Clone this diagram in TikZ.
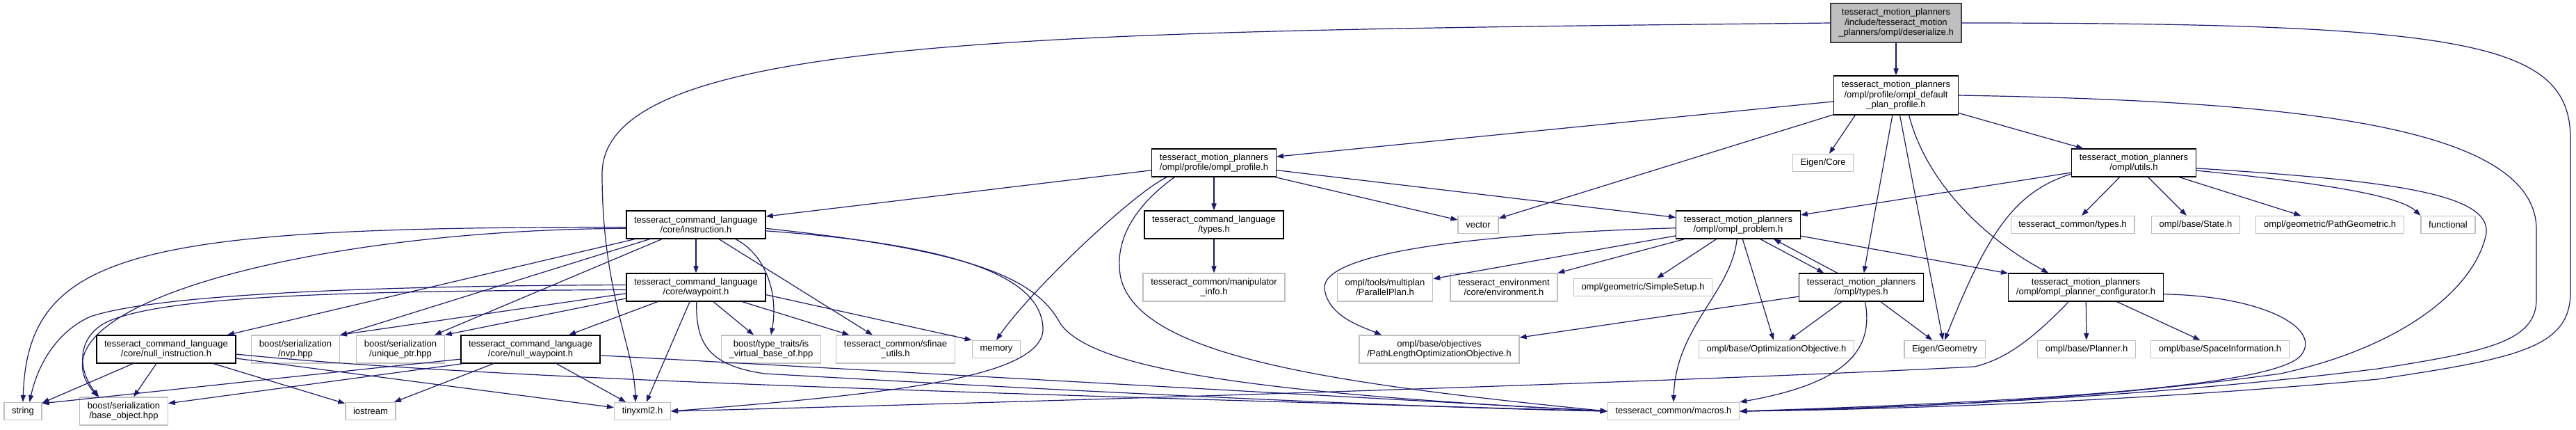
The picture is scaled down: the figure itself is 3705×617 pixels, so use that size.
\documentclass[tikz,border=0pt]{standalone}
\usepackage{fontspec}
\setmainfont{Liberation Sans}
\usetikzlibrary{arrows.meta}
\definecolor{edgeBlue}{RGB}{25,25,112}
\definecolor{extGray}{RGB}{191,191,191}
\definecolor{rootGray}{RGB}{64,64,64}

\begin{document}
\begin{tikzpicture}[x=0.5pt,y=-0.5pt,
  f/.style={draw=black,fill=white,line width=0.65pt,align=center,inner xsep=5.6pt,inner ysep=1pt,font=\fontsize{6.5pt}{7.2pt}\selectfont},
  ext/.style={f,draw=extGray},
  root/.style={f,fill=extGray,draw=rootGray},
  one/.style={minimum height=12.5pt},
  two/.style={minimum height=20pt},
  three/.style={minimum height=28pt},
  arrow/.style={-{Triangle[length=5pt,width=3.6pt]},draw=edgeBlue,line width=0.6pt}
]
\useasboundingbox (0,0) rectangle (3705,617);

\node[root,three] (deser) at (2727,33) {tesseract\_motion\_planners\\/include/tesseract\_motion\\\_planners/ompl/deserialize.h};
\node[f,three] (dflt) at (2727,137) {tesseract\_motion\_planners\\/ompl/profile/ompl\_default\\\_plan\_profile.h};
\node[f,two] (prof) at (1746,234) {tesseract\_motion\_planners\\/ompl/profile/ompl\_profile.h};
\node[ext,one] (ecore) at (2622,234) {Eigen/Core};
\node[f,two] (utils) at (3069,234) {tesseract\_motion\_planners\\/ompl/utils.h};
\node[f,two] (instr) at (1001,323) {tesseract\_command\_language\\/core/instruction.h};
\node[f,two] (cltypes) at (1746,323) {tesseract\_command\_language\\/types.h};
\node[ext,one] (vector) at (2126,323) {vector};
\node[f,two] (problem) at (2500,323) {tesseract\_motion\_planners\\/ompl/ompl\_problem.h};
\node[ext,one] (ctypes) at (2981,323) {tesseract\_common/types.h};
\node[ext,one] (state) at (3158,323) {ompl/base/State.h};
\node[ext,one] (pathgeo) at (3351,323) {ompl/geometric/PathGeometric.h};
\node[ext,one] (functional) at (3521,323) {functional};
\node[f,two] (wp) at (1001,413) {tesseract\_command\_language\\/core/waypoint.h};
\node[ext,two] (manip) at (1746,413) {tesseract\_common/manipulator\\\_info.h};
\node[ext,two] (parallel) at (1992,413) {ompl/tools/multiplan\\/ParallelPlan.h};
\node[ext,two] (env) at (2163,413) {tesseract\_environment\\/core/environment.h};
\node[ext,one] (setup) at (2363,413) {ompl/geometric/SimpleSetup.h};
\node[f,two] (mtypes) at (2677,413) {tesseract\_motion\_planners\\/ompl/types.h};
\node[f,two] (config) at (3000,413) {tesseract\_motion\_planners\\/ompl/ompl\_planner\_configurator.h};
\node[f,two] (nullinstr) at (239,502) {tesseract\_command\_language\\/core/null\_instruction.h};
\node[ext,two] (nvp) at (425,502) {boost/serialization\\/nvp.hpp};
\node[ext,two] (uptr) at (576,502) {boost/serialization\\/unique\_ptr.hpp};
\node[f,two] (nullwp) at (763,502) {tesseract\_command\_language\\/core/null\_waypoint.h};
\node[ext,two] (virt) at (1109,502) {boost/type\_traits/is\\\_virtual\_base\_of.hpp};
\node[ext,two] (sfinae) at (1288,502) {tesseract\_common/sfinae\\\_utils.h};
\node[ext,one] (memory) at (1433,502) {memory};
\node[ext,two] (pathlen) at (2070,502) {ompl/base/objectives\\/PathLengthOptimizationObjective.h};
\node[ext,one] (optobj) at (2555,502) {ompl/base/OptimizationObjective.h};
\node[ext,one] (egeom) at (2797,502) {Eigen/Geometry};
\node[ext,one] (planner) at (3001,502) {ompl/base/Planner.h};
\node[ext,one] (spaceinfo) at (3193,502) {ompl/base/SpaceInformation.h};
\node[ext,one] (string) at (33,591) {string};
\node[ext,two] (baseobj) at (178,591) {boost/serialization\\/base\_object.hpp};
\node[ext,one] (iostream) at (533,591) {iostream};
\node[ext,one] (tinyxml) at (924,591) {tinyxml2.h};
\node[ext,one] (macros) at (2407,591) {tesseract\_common/macros.h};

\draw[arrow] (deser) -- (dflt);
\draw[arrow] (deser.west) .. controls (1500,45) and (866,50) .. (866,250) .. controls (866,420) and (912,500) .. ([xshift=-5pt]tinyxml.north);
\draw[arrow] (deser.east) .. controls (3550,33) and (3697,60) .. (3697,200) -- (3697,420) .. controls (3697,500) and (3620,515) .. (3420,545) .. controls (3100,575) and (2750,588) .. (macros.east);
\draw[arrow] (dflt) -- (prof);
\draw[arrow] (dflt.-154) -- (ecore);
\draw[arrow] (dflt) -- (vector);
\draw[arrow] (dflt) -- (utils);
\draw[arrow] (dflt) -- (mtypes);
\draw[arrow] (dflt) -- (egeom);
\draw[arrow] (dflt.-57) .. controls (2770,260) and (2850,340) .. (config.159);
\draw[arrow] (dflt.east) .. controls (3300,145) and (3648,180) .. (3648,330) -- (3648,430) .. controls (3648,490) and (3580,505) .. (3420,530) .. controls (3100,570) and (2750,586) .. (macros.east);
\draw[arrow] (prof) -- (instr);
\draw[arrow] (prof) -- (cltypes);
\draw[arrow] (prof) -- (vector);
\draw[arrow] (prof) -- (problem);
\draw[arrow] (prof.-163) .. controls (1630,277) and (1480,420) .. (memory.north);
\draw[arrow] (prof.-160) .. controls (1640,290) and (1600,340) .. (1612,400) .. controls (1640,510) and (1900,550) .. (macros.west);
\draw[arrow] (cltypes) -- (manip);
\draw[arrow] (utils) -- (problem);
\draw[arrow] (utils) -- (ctypes);
\draw[arrow] (utils) -- (state);
\draw[arrow] (utils) -- (pathgeo);
\draw[arrow] (utils.-7) .. controls (3330,262) and (3450,280) .. (functional.north west);
\draw[arrow] (utils.-170) .. controls (2900,275) and (2860,330) .. (egeom.north);
\draw[arrow] (utils.-5) .. controls (3450,260) and (3590,280) .. (3575,340) .. controls (3555,420) and (3450,500) .. (3280,537) .. controls (3000,575) and (2750,586) .. (macros.east);
\draw[arrow] (instr) -- (nullinstr);
\draw[arrow] (instr) -- (nvp);
\draw[arrow] (instr) -- (uptr);
\draw[arrow] (instr) -- (wp);
\draw[arrow] (instr) -- (sfinae);
\draw[arrow] (instr.-20) .. controls (1100,365) and (1120,420) .. (virt.north);
\draw[arrow] (instr.-178) .. controls (200,326) and (40,360) .. (string.north);
\draw[arrow] (instr.-177) .. controls (450,330) and (30,440) .. (baseobj.151);
\draw[arrow] (instr.-5) .. controls (1350,350) and (1495,390) .. (1500,470) .. controls (1505,540) and (1300,565) .. (tinyxml.east);
\draw[arrow] (instr.-3) .. controls (1400,360) and (1490,400) .. (1525,465) .. controls (1570,530) and (1800,565) .. (macros.west);
\draw[arrow] (problem) -- (parallel);
\draw[arrow] (problem) -- (env);
\draw[arrow] (problem) -- (setup);
\draw[arrow] (problem) -- (optobj);
\draw[arrow] (problem) -- (config);
\draw[arrow] (problem.-33) -- (mtypes.159);
\draw[arrow] (problem.-177) .. controls (2150,335) and (1900,360) .. (1905,415) .. controls (1910,455) and (1960,470) .. (pathlen.166);
\draw[arrow] (problem.-95) .. controls (2490,420) and (2410,470) .. (macros.north);
\draw[arrow] (mtypes.149) -- (problem.-22);
\draw[arrow] (mtypes) -- (pathlen);
\draw[arrow] (mtypes) -- (optobj);
\draw[arrow] (mtypes) -- (egeom);
\draw[arrow] (mtypes.-75) .. controls (2695,500) and (2660,550) .. (macros.north east);
\draw[arrow] (config) -- (planner);
\draw[arrow] (config) -- (spaceinfo);
\draw[arrow] (config.-140) .. controls (2930,480) and (2890,515) .. (2840,527) .. controls (2400,550) and (1400,580) .. (tinyxml.east);
\draw[arrow] (config.-5) .. controls (3250,425) and (3340,470) .. (3310,510) .. controls (3280,550) and (3000,575) .. (macros.east);
\draw[arrow] (wp) -- (nullwp);
\draw[arrow] (wp) -- (tinyxml);
\draw[arrow] (wp) -- (virt);
\draw[arrow] (wp) -- (sfinae);
\draw[arrow] (wp.-6) -- (memory.north west);
\draw[arrow] (wp.185) -- (nvp.north east);
\draw[arrow] (wp.189) -- (uptr.north east);
\draw[arrow] (wp.178) .. controls (500,411) and (220,425) .. (130,455) .. controls (85,475) and (55,520) .. (string.54);
\draw[arrow] (wp.-178) .. controls (500,418) and (250,425) .. (160,460) .. controls (110,480) and (110,530) .. (baseobj.150);
\draw[arrow] (wp.-88) .. controls (1001,490) and (1015,525) .. (1100,537) .. controls (1500,560) and (2000,585) .. (macros.west);
\draw[arrow] (nullinstr) -- (string);
\draw[arrow] (nullinstr) -- (baseobj);
\draw[arrow] (nullinstr) -- (iostream);
\draw[arrow] (nullinstr) -- (tinyxml);
\draw[arrow] (nullinstr.-4) .. controls (700,545) and (1400,565) .. (macros.west);
\draw[arrow] (nullwp) -- (iostream);
\draw[arrow] (nullwp) -- (tinyxml);
\draw[arrow] (nullwp.-168) -- (baseobj.10);
\draw[arrow] (nullwp.-172) .. controls (450,538) and (250,560) .. (string.22);
\draw[arrow] (nullwp.-5) -- (macros.west);
\end{tikzpicture}
\end{document}
